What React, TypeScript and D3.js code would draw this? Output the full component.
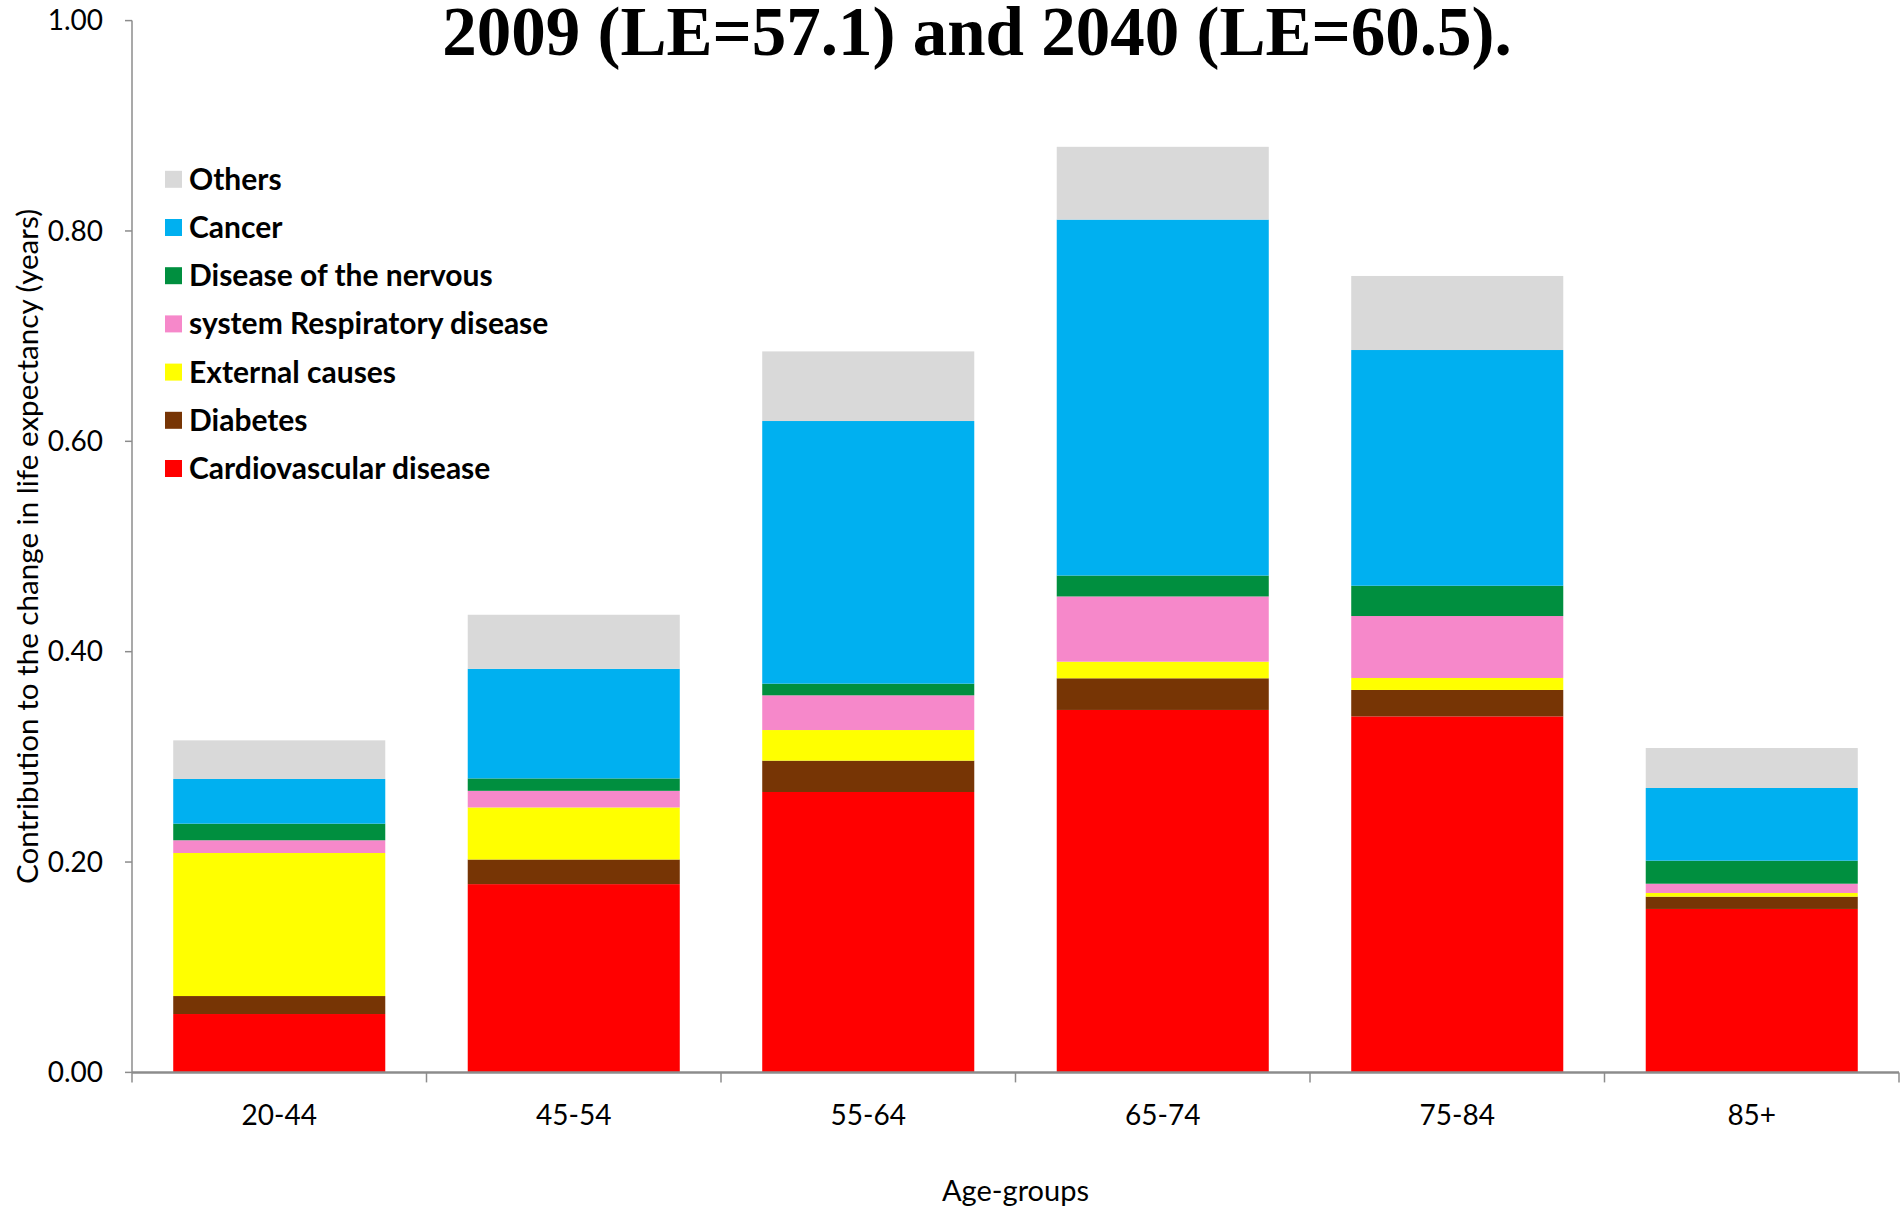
import React from "react";
import * as d3 from "d3";

const ageGroups = ["20-44", "45-54", "55-64", "65-74", "75-84", "85+"];
const cardiovascular = [0.0555, 0.179, 0.2666, 0.3446, 0.3385, 0.1554];
const diabetes = [0.0171, 0.0234, 0.0298, 0.0301, 0.0251, 0.0117];
const externalCauses = [0.136, 0.0495, 0.0291, 0.0158, 0.0114, 0.0035];
const respiratory = [0.0121, 0.0158, 0.033, 0.062, 0.0589, 0.0088];
const nervous = [0.0158, 0.0118, 0.0111, 0.0199, 0.0288, 0.0219];
const cancer = [0.0425, 0.1042, 0.2497, 0.3384, 0.2241, 0.0691];
const others = [0.0367, 0.0514, 0.0662, 0.0692, 0.0704, 0.038];

const yTicks = [0, 0.2, 0.4, 0.6, 0.8, 1.0];

const seriesKeys = ["cvd", "diabetes", "external", "resp", "nervous", "cancer", "others"];
const seriesLabels: Record<string, string> = {
  cvd: "Cardiovascular disease",
  diabetes: "Diabetes",
  external: "External causes",
  resp: "system Respiratory disease",
  nervous: "Disease of the nervous",
  cancer: "Cancer",
  others: "Others",
};
const seriesColors: Record<string, string> = {
  cvd: "#FF0000",
  diabetes: "#773505",
  external: "#FFFF00",
  resp: "#F688CA",
  nervous: "#008F3F",
  cancer: "#00B0F0",
  others: "#D9D9D9",
};
const legendOrder = ["others", "cancer", "nervous", "resp", "external", "diabetes", "cvd"];

const W = 1900;
const H = 1208;
const plotLeft = 132;
const plotRight = 1899;
const plotTop = 20.6;
const plotBottom = 1072.4;
const font = "Lato, 'Open Sans', sans-serif";

export default function App() {
  const rows = ageGroups.map((g, i) => ({
    group: g,
    cvd: cardiovascular[i],
    diabetes: diabetes[i],
    external: externalCauses[i],
    resp: respiratory[i],
    nervous: nervous[i],
    cancer: cancer[i],
    others: others[i],
  }));
  const stacked = d3.stack<any>().keys(seriesKeys)(rows);

  const x = d3
    .scaleBand<string>()
    .domain(ageGroups)
    .range([plotLeft, plotRight])
    .paddingInner(0.28)
    .paddingOuter(0.14);
  const y = d3.scaleLinear().domain([0, 1]).range([plotBottom, plotTop]);
  const step = x.step();
  const boundaries = d3.range(ageGroups.length + 1).map((i) => plotLeft + i * step);

  return (
    <svg
      width={W}
      height={H}
      style={{ position: "absolute", left: 0, top: 0, background: "#fff" }}
    >
      <rect x={0} y={0} width={W} height={H} fill="#fff" />
      {/* bars */}
      {stacked.map((s) => (
        <g key={s.key} fill={seriesColors[s.key]}>
          {s.map((d, i) => (
            <rect
              key={i}
              x={x(ageGroups[i])}
              width={x.bandwidth()}
              y={y(d[1])}
              height={y(d[0]) - y(d[1])}
            />
          ))}
        </g>
      ))}
      {/* y axis */}
      <line x1={plotLeft} x2={plotLeft} y1={plotTop} y2={plotBottom} stroke="#8C8C8C" strokeWidth={1.5} />
      {yTicks.map((t) => (
        <g key={t}>
          <line x1={plotLeft - 7} x2={plotLeft} y1={y(t)} y2={y(t)} stroke="#8C8C8C" strokeWidth={1.5} />
          <text
            x={103}
            y={y(t)}
            dy="0.35em"
            textAnchor="end"
            fontFamily={font}
            fontSize={28}
            fill="#000"
          >
            {t.toFixed(2)}
          </text>
        </g>
      ))}
      {/* x axis */}
      <line x1={plotLeft} x2={plotRight} y1={plotBottom} y2={plotBottom} stroke="#8C8C8C" strokeWidth={2.5} />
      {boundaries.map((b, i) => (
        <line key={i} x1={b} x2={b} y1={plotBottom} y2={plotBottom + 10} stroke="#8C8C8C" strokeWidth={1.5} />
      ))}
      {ageGroups.map((g) => (
        <text
          key={g}
          x={(x(g) as number) + x.bandwidth() / 2}
          y={1124.5}
          textAnchor="middle"
          fontFamily={font}
          fontSize={28}
          fill="#000"
        >
          {g}
        </text>
      ))}
      <text x={(plotLeft + plotRight) / 2} y={1201} textAnchor="middle" fontFamily={font} fontSize={29} fill="#000">
        Age-groups
      </text>
      <text
        transform={`translate(38, ${(plotTop + plotBottom) / 2}) rotate(-90)`}
        textAnchor="middle"
        fontFamily={font}
        fontSize={29.6}
        fill="#000"
      >
        Contribution to the change in life expectancy (years)
      </text>
      {/* legend */}
      {legendOrder.map((k, i) => {
        const cy = 179.3 + i * 48.2;
        return (
          <g key={k}>
            <rect x={165} y={cy - 8.5} width={17} height={17} fill={seriesColors[k]} />
            <text x={189} y={cy + 10.5} fontFamily={font} fontWeight="bold" fontSize={30} fill="#000">
              {seriesLabels[k]}
            </text>
          </g>
        );
      })}
      {/* title */}
      <text
        x={977}
        y={55}
        textAnchor="middle"
        fontFamily="'Liberation Serif', 'Times New Roman', serif"
        fontWeight="bold"
        fontSize={69}
        fill="#000"
      >
        2009 (LE=57.1) and 2040 (LE=60.5).
      </text>
    </svg>
  );
}
